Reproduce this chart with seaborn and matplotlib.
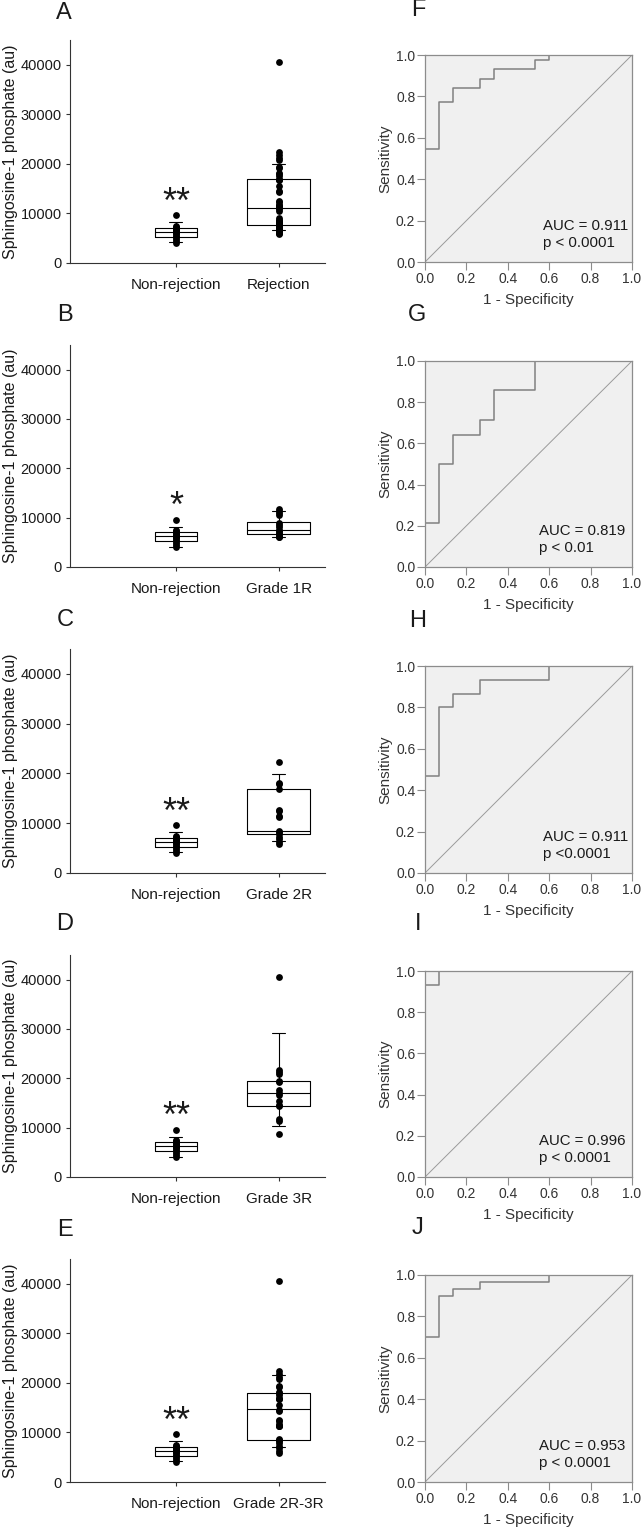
import matplotlib
matplotlib.use('Agg')
import pandas as pd
import matplotlib.pyplot as plt
import seaborn as sns

# S1P levels (au)
non_rejection = [9600, 7400, 7200, 7000, 6800, 6600, 6400, 6200, 6000, 5800, 5500, 5200, 4800, 4400, 4100]
grade_1r = [11800, 11400, 10900, 10500, 9000, 8500, 8100, 7600, 7200, 6900, 6600, 6300, 6100, 6000]
grade_2r = [22300, 18100, 17900, 16800, 12600, 12400, 11400, 11300, 8500, 8200, 7800, 7300, 6800, 6300, 5900]
grade_3r = [40500, 21700, 21200, 20800, 19400, 19200, 17600, 17000, 16700, 15500, 14600, 14400, 11700, 11300, 8700]

# box summaries as drawn: lower cap, Q1, median, Q3, upper cap
box_non_rejection = [4150, 5250, 6250, 7050, 8200]
box_rejection = [6700, 7600, 11000, 16900, 20000]
box_1r = [6060, 6670, 7470, 9150, 11310]
box_2r = [6440, 7930, 8460, 16790, 19870]
box_3r = [10410, 14450, 17070, 19430, 29250]
box_2r_3r = [7060, 8400, 14660, 18030, 21510]

group_labels = ['Rejection', 'Grade 1R', 'Grade 2R', 'Grade 3R', 'Grade 2R-3R']
group_values = [grade_1r + grade_2r + grade_3r, grade_1r, grade_2r, grade_3r, grade_2r + grade_3r]
group_boxes = [box_rejection, box_1r, box_2r, box_3r, box_2r_3r]
stars = ['**', '*', '**', '**', '**']

# ROC operating points (1 - specificity, sensitivity)
roc_f_fpr = [0, 0, 0.067, 0.133, 0.267, 0.333, 0.533, 0.6, 1.0]
roc_f_tpr = [0, 0.545, 0.773, 0.841, 0.886, 0.932, 0.977, 1.0, 1.0]
roc_g_fpr = [0, 0, 0.067, 0.133, 0.267, 0.333, 0.533, 1.0]
roc_g_tpr = [0, 0.214, 0.5, 0.643, 0.714, 0.857, 1.0, 1.0]
roc_h_fpr = [0, 0, 0.067, 0.133, 0.267, 0.6, 1.0]
roc_h_tpr = [0, 0.467, 0.8, 0.867, 0.933, 1.0, 1.0]
roc_i_fpr = [0, 0, 0.067, 1.0]
roc_i_tpr = [0, 0.933, 1.0, 1.0]
roc_j_fpr = [0, 0, 0.067, 0.133, 0.267, 0.6, 1.0]
roc_j_tpr = [0, 0.7, 0.9, 0.933, 0.967, 1.0, 1.0]
roc_curves = [(roc_f_fpr, roc_f_tpr), (roc_g_fpr, roc_g_tpr), (roc_h_fpr, roc_h_tpr),
              (roc_i_fpr, roc_i_tpr), (roc_j_fpr, roc_j_tpr)]
auc_labels = ['AUC = 0.911', 'AUC = 0.819', 'AUC = 0.911', 'AUC = 0.996', 'AUC = 0.953']
p_labels = ['p < 0.0001', 'p < 0.01', 'p <0.0001', 'p < 0.0001', 'p < 0.0001']

W, H = 642, 1530
sns.set_style("ticks")
plt.rcParams['font.family'] = ['Liberation Sans', 'DejaVu Sans']
plt.ioff()
fig = plt.figure(figsize=(W / 100, H / 100), dpi=100)


def rect(l, t, r, b):
    return [l / W, 1 - b / H, (r - l) / W, (b - t) / H]


box_tops = [40, 345, 649, 955, 1259]
box_bottoms = [263, 567, 873, 1177, 1482]
roc_tops = [55, 361, 666, 971, 1275]
roc_bottoms = [262, 567, 873, 1177, 1482]
letters_left = [('A', 64, 13), ('B', 65, 315), ('C', 65, 620), ('D', 65, 924), ('E', 65, 1230)]
letters_right = [('F', 418, 10), ('G', 417, 315), ('H', 418, 621), ('I', 418, 924), ('J', 418, 1228)]
roc_text_x = [0.568, 0.552, 0.568, 0.552, 0.552]
ink = '#1a1a1a'

for i in range(5):
    # Box + dot panels
    ax = fig.add_axes(rect(70, box_tops[i], 325, box_bottoms[i]))
    order = ['Non-rejection', group_labels[i]]
    nb = pd.DataFrame({'group': order[0], 'value': box_non_rejection})
    gb = pd.DataFrame({'group': order[1], 'value': group_boxes[i]})
    common = dict(x='group', y='value', order=order, whis=(0, 100), fill=False, color='black',
                  linewidth=0.8, showfliers=False, capwidths=0.125, ax=ax)
    sns.boxplot(data=nb, width=0.41, **common)
    sns.boxplot(data=gb, width=0.61, **common)
    dots = pd.DataFrame({'group': [order[0]] * len(non_rejection) + [order[1]] * len(group_values[i]),
                         'value': non_rejection + group_values[i]})
    sns.stripplot(data=dots, x='group', y='value', order=order, jitter=False, color='black',
                  size=4.9, linewidth=0, zorder=5, ax=ax)
    ax.text(0, 12000, stars[i], ha='center', va='center', fontsize=26, color=ink)
    ax.set_xlim(-1.03, 1.45)
    ax.set_ylim(0, 45000)
    ax.set_yticks([0, 10000, 20000, 30000, 40000])
    ax.set_xlabel('')
    ax.set_ylabel('Sphingosine-1 phosphate (au)', fontsize=11.5, color=ink)
    ax.yaxis.set_label_coords(-0.205, 0.5)
    for s in ['top', 'right']:
        ax.spines[s].set_visible(False)
    for s in ['left', 'bottom']:
        ax.spines[s].set_color('#333333')
        ax.spines[s].set_linewidth(0.8)
    ax.tick_params(axis='y', length=3, width=0.8, pad=3, labelsize=10.5, colors='#333333', labelcolor=ink)
    ax.tick_params(axis='x', length=3, width=0.8, pad=8, labelsize=11, colors='#333333', labelcolor=ink)
    ax.set_facecolor('white')

    # ROC panels
    rx = fig.add_axes(rect(425, roc_tops[i], 632, roc_bottoms[i]))
    rx.set_facecolor('#f0f0f0')
    fpr, tpr = roc_curves[i]
    sns.lineplot(x=[0, 1], y=[0, 1], color='#9a9a9a', linewidth=0.7, ax=rx)
    sns.lineplot(x=fpr, y=tpr, estimator=None, sort=False, drawstyle='steps-post',
                 color='#808080', linewidth=1.1, ax=rx)
    rx.set_xlim(0, 1)
    rx.set_ylim(0, 1)
    ticks = [0, 0.2, 0.4, 0.6, 0.8, 1.0]
    rx.set_xticks(ticks)
    rx.set_yticks(ticks)
    rx.set_xticklabels([f'{t:.1f}' for t in ticks])
    rx.set_yticklabels([f'{t:.1f}' for t in ticks])
    for s in rx.spines.values():
        s.set_color('#8c8c8c')
        s.set_linewidth(0.9)
    rx.tick_params(length=5.5, width=0.8, pad=1.5, labelsize=10, colors='#8c8c8c', labelcolor='#333333')
    rx.set_xlabel('1 - Specificity', fontsize=11, color='#333333')
    rx.set_ylabel('Sensitivity', fontsize=11, color='#333333')
    rx.xaxis.set_label_coords(0.5, -0.15)
    rx.yaxis.set_label_coords(-0.16, 0.5)
    rx.text(roc_text_x[i], 0.175, auc_labels[i], ha='left', va='center', fontsize=10.8, color=ink)
    rx.text(roc_text_x[i], 0.09, p_labels[i], ha='left', va='center', fontsize=10.8, color=ink)

for letter, x, y in letters_left + letters_right:
    fig.text(x / W, 1 - y / H, letter, ha='center', va='center', fontsize=17, color=ink)

fig.savefig('out.png', dpi=100)
plt.close(fig)
